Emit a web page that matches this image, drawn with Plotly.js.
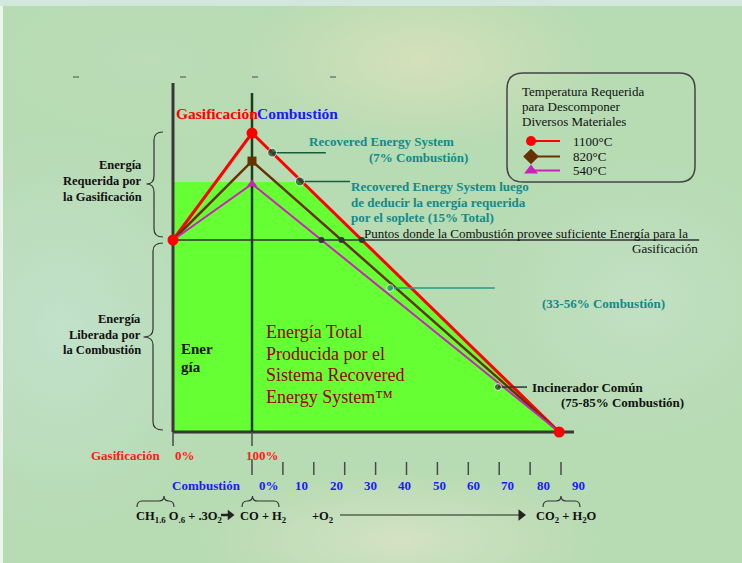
<!DOCTYPE html>
<html><head><meta charset="utf-8">
<script src="https://cdn.plot.ly/plotly-3.0.1.min.js"></script>
<style>
html,body{margin:0;padding:0;width:742px;height:563px;overflow:hidden;}
body{
 background:
  linear-gradient(to bottom, rgba(212,232,222,0.95) 0, rgba(212,232,222,0.95) 6px, transparent 6px),
  linear-gradient(to right, rgba(240,246,240,0.95) 0, rgba(240,246,240,0.95) 3px, transparent 3px),
  radial-gradient(ellipse 180px 90px at 420px 60px, rgba(222,226,188,0.75), transparent),
  radial-gradient(ellipse 160px 200px at 60px 330px, rgba(198,228,212,0.7), transparent),
  radial-gradient(ellipse 200px 70px at 400px 540px, rgba(218,228,198,0.8), transparent),
  radial-gradient(ellipse 160px 140px at 640px 300px, rgba(200,228,205,0.6), transparent),
  radial-gradient(ellipse 150px 80px at 150px 60px, rgba(190,222,185,0.6), transparent),
  #b7dbb3;
}
#chart{width:742px;height:563px;}
</style></head><body><div id="chart"></div>
<script>
// ---------------- data ----------------
const temperatures = ['1100°C', '820°C', '540°C'];
const lineColors = ['#ff0000', '#663300', '#cc22bb'];
const peakEnergy = [155.7, 141.1, 129.2];   // energy at 100% gasification (0% combustion)
const startEnergy = 100;                     // energy at 0% gasification
const endCombustion = 99.4;                  // combustion % where energy returns to 0
const greenTopEnergy = 130.2;
const gasTicks = [0, 100];
const gasTickLabels = ['0%', '100%'];
const combTicks = [0, 10, 20, 30, 40, 50, 60, 70, 80, 90, 100];
const combLabels = ['0%', '10', '20', '30', '40', '50', '60', '70', '80', '90'];
const combLabelPos = [5.5, 15.9, 27.2, 38.2, 49.5, 60.8, 71.8, 82.8, 94.2, 105.5];
const calloutX = [6.5, 15.5, 44.7, 79.6];
const calloutY = [145.5, 130.5, 75, 23.4];
const calloutEndX = [23.9, 31.7, 78.6, 89.0];
const axisTopEnergy = 181.8;
const midLineTopEnergy = 176.6;
const thresholdEndX = 144.7;
const baselineEndX = 104.2;

// --------------- scales ---------------
const PXC = 3.09;             // px per combustion %
const PXG = 0.79;             // px per gasification %
const PXE = 1.92;             // px per energy unit
const gasToX = g => (g - 100) * PXG / PXC;
const X = px => (px - 252) / PXC;   // layout helper (pixel -> axis units)
const Y = py => (432 - py) / PXE;
const gx0 = gasToX(0);
const SERIF = '"Liberation Serif", "Times New Roman", serif';

const traces = [];
// green area
const xRedTop = endCombustion * (1 - greenTopEnergy / peakEnergy[0]);
traces.push({x: [gx0, xRedTop, endCombustion, gx0], y: [greenTopEnergy, greenTopEnergy, 0, 0],
  mode: 'lines', fill: 'toself', fillcolor: '#66ff33', line: {width: 0}});
// frame lines
traces.push({x: [gx0, thresholdEndX], y: [startEnergy, startEnergy], mode: 'lines', line: {color: '#333', width: 1.5}});
traces.push({x: [gx0, gx0, null, gx0, baselineEndX], y: [0, axisTopEnergy, null, 0, 0], mode: 'lines', line: {color: '#383838', width: 3}});
traces.push({x: [0, 0], y: [0, midLineTopEnergy], mode: 'lines', line: {color: '#1e3d1e', width: 2.5}});
// ticks
const tx = [], ty = [];
gasTicks.forEach(g => { tx.push(gasToX(g), gasToX(g), null); ty.push(0, Y(446), null); });
combTicks.forEach((c, i) => { tx.push(c, c, null); ty.push(i === 0 ? Y(459) : Y(462), Y(475), null); });
traces.push({x: tx, y: ty, mode: 'lines', line: {color: '#4a4a4a', width: 1.5}});
// series lines
peakEnergy.forEach((p, i) => {
  traces.push({x: [gx0, 0, endCombustion], y: [startEnergy, p, 0], mode: 'lines', name: temperatures[i],
    line: {color: lineColors[i], width: i === 0 ? 3 : (i === 1 ? 2.5 : 2)}});
});
// peak markers
const symbols = ['circle', 'square', 'triangle-up'];
peakEnergy.forEach((p, i) => {
  traces.push({x: [0], y: [p], mode: 'markers', marker: {symbol: symbols[i], color: lineColors[i], size: i === 0 ? 11 : 9}});
});
traces.push({x: [gx0, endCombustion], y: [startEnergy, 0], mode: 'markers', marker: {color: '#ff0000', size: 11}});
// threshold intersections
traces.push({x: peakEnergy.map(p => endCombustion * (p - startEnergy) / p), y: peakEnergy.map(() => startEnergy),
  mode: 'markers', marker: {color: '#2b3a33', size: 6}});
// callouts
const calloutColors = ['#1a5c3a', '#1a5c3a', '#2a9a8a', '#333'];
calloutX.forEach((cx, i) => {
  traces.push({x: [cx, calloutEndX[i]], y: [calloutY[i], calloutY[i]], mode: 'lines', line: {color: calloutColors[i], width: 1.5}});
});
traces.push({x: calloutX, y: calloutY, mode: 'markers', marker: {color: ['#0d4d2d', '#0d4d2d', '#1f8a7a', '#333'], size: [9, 9, 7, 7]}});
// legend swatches
const legY = [141, 156.5, 170.5];
const legSym = ['circle', 'diamond', 'triangle-up'];
temperatures.forEach((t, i) => {
  traces.push({x: [X(531), X(560)], y: [Y(legY[i]), Y(legY[i])], mode: 'lines', line: {color: lineColors[i], width: 2}});
  traces.push({x: [X(531)], y: [Y(legY[i])], mode: 'markers', marker: {symbol: legSym[i], color: lineColors[i], size: i === 0 ? 10 : 12}});
});
// reaction arrows (bottom formula)
traces.push({x: [X(221), X(229)], y: [Y(515), Y(515)], mode: 'lines', line: {color: '#222', width: 2.5}});
traces.push({x: [X(230)], y: [Y(515)], mode: 'markers', marker: {symbol: 'triangle-right', color: '#222', size: 9}});
traces.push({x: [X(340), X(519)], y: [Y(515), Y(515)], mode: 'lines', line: {color: '#222', width: 1.2}});
traces.push({x: [X(521)], y: [Y(515)], mode: 'markers', marker: {symbol: 'triangle-right', color: '#222', size: 10}});

// --------------- annotations ---------------
const ann = [];
function T(text, px, py, size, color, anchor) {
  ann.push({x: X(px), y: Y(py), xref: 'x', yref: 'y', text: text, showarrow: false,
    xanchor: anchor || 'left', yanchor: 'middle', borderpad: 0,
    font: {family: SERIF, size: size, color: color}});
}
T('<b>Gasificación</b>', 175, 113, 15.5, '#ff0000');
T('<b>Combustión</b>', 256, 113, 15.5, '#1a1aff');
[['Energía', 165], ['Requerida por', 181], ['la Gasificación', 197]].forEach(a => T('<b>' + a[0] + '</b>', 143, a[1], 12.5, '#111', 'right'));
[['Energía', 319], ['Liberada por', 334.5], ['la Combustión', 350]].forEach(a => T('<b>' + a[0] + '</b>', 142, a[1], 12.5, '#111', 'right'));
T('<b>Ener</b>', 180, 349, 15, '#111');
T('<b>gía</b>', 180, 367, 15, '#111');
[['Energía Total', 332], ['Producida por el', 353.5], ['Sistema Recovered', 375], ['Energy System™', 397]].forEach(a => T(a[0], 265, a[1], 18, '#990000'));
const TEAL = '#138a8a';
T('<b>Recovered Energy System</b>', 307.5, 141.5, 13, TEAL);
T('<b>(7% Combustión)</b>', 367.5, 157, 13, TEAL);
[['Recovered Energy System luego', 186], ['de deducir la energía requerida', 202], ['por el soplete (15% Total)', 217.5]].forEach(a => T('<b>' + a[0] + '</b>', 350, a[1], 13, TEAL));
T('Puntos donde la Combustión provee suficiente Energía para la', 363, 233.5, 13, '#111');
T('Gasificación', 699, 248, 13, '#111', 'right');
T('<b>(33-56% Combustión)</b>', 540.5, 303.5, 13, TEAL);
T('<b>Incinerador Común</b>', 531, 387, 13, '#111');
T('<b>(75-85% Combustión)</b>', 559.5, 402, 13, '#111');
T('<b>Gasificación</b>', 90, 455, 13, '#ff1a1a');
const gasLabelPx = [173.5, 245];
gasTickLabels.forEach((l, i) => T('<b>' + l + '</b>', gasLabelPx[i], 455, 13, '#ff1a1a'));
T('<b>Combustión</b>', 170.5, 485, 13, '#1a1aff');
combLabels.forEach((l, i) => ann.push({x: combLabelPos[i], y: Y(485), text: '<b>' + l + '</b>', showarrow: false,
  xanchor: 'center', yanchor: 'middle', font: {family: SERIF, size: 13, color: '#1a1aff'}}));
T('<b>CH<sub>1.6</sub> O<sub>.6</sub> + .3O<sub>2</sub></b>', 134.5, 517, 12.5, '#111');
T('<b>CO + H<sub>2</sub></b>', 238.5, 517, 12.5, '#111');
T('<b>+O<sub>2</sub></b>', 311, 517, 12.5, '#111');
T('<b>CO<sub>2</sub> + H<sub>2</sub>O</b>', 535, 517, 12.5, '#111');
// legend title
[['Temperatura Requerida', 91.5], ['para Descomponer', 106], ['Diversos Materiales', 121.5]].forEach(a => T(a[0], 521, a[1], 13, '#111'));
temperatures.forEach((t, i) => T(t, 572, legY[i], 13, '#111'));

// --------------- shapes ---------------
const f = v => v.toFixed(3);
const P = (px, py) => f(X(px)) + ',' + f(Y(py));
function vBrace(xr, xm, xl, y0, ym, y1) {
  const r = 8;
  return 'M' + P(xr, y0) + ' Q' + P(xm, y0) + ' ' + P(xm, y0 + r) + ' L' + P(xm, ym - r) +
    ' Q' + P(xm, ym) + ' ' + P(xl, ym) + ' Q' + P(xm, ym) + ' ' + P(xm, ym + r) +
    ' L' + P(xm, y1 - r) + ' Q' + P(xm, y1) + ' ' + P(xr, y1);
}
function hBrace(x0, xt, x1, yb, ym, yt) {
  const r = 5;
  return 'M' + P(x0, yb) + ' Q' + P(x0, ym) + ' ' + P(x0 + r, ym) + ' L' + P(xt - r, ym) +
    ' Q' + P(xt, ym) + ' ' + P(xt, yt) + ' Q' + P(xt, ym) + ' ' + P(xt + r, ym) +
    ' L' + P(x1 - r, ym) + ' Q' + P(x1, ym) + ' ' + P(x1, yb);
}
function rrect(x0, y0, x1, y1, r) {
  return 'M' + P(x0 + r, y0) + ' L' + P(x1 - r, y0) + ' Q' + P(x1, y0) + ' ' + P(x1, y0 + r) +
    ' L' + P(x1, y1 - r) + ' Q' + P(x1, y1) + ' ' + P(x1 - r, y1) + ' L' + P(x0 + r, y1) +
    ' Q' + P(x0, y1) + ' ' + P(x0, y1 - r) + ' L' + P(x0, y0 + r) + ' Q' + P(x0, y0) + ' ' + P(x0 + r, y0) + ' Z';
}
const braceLine = {color: '#333', width: 1.2};
const shapes = [
  {type: 'path', xref: 'x', yref: 'y', path: vBrace(163, 154, 146.5, 132, 184, 237), line: braceLine},
  {type: 'path', xref: 'x', yref: 'y', path: vBrace(163, 153, 143.5, 243, 337, 430), line: braceLine},
  {type: 'path', xref: 'x', yref: 'y', path: hBrace(137, 164, 174, 507, 501, 496), line: braceLine},
  {type: 'path', xref: 'x', yref: 'y', path: hBrace(242, 252.5, 279, 507, 501, 496), line: braceLine},
  {type: 'path', xref: 'x', yref: 'y', path: hBrace(543, 561, 580, 507, 501, 496), line: braceLine},
  {type: 'path', xref: 'x', yref: 'y', path: rrect(507, 73, 695, 182, 16), line: {color: '#444', width: 1.5}},
];
[76, 183, 255, 333].forEach(px => shapes.push({type: 'line', xref: 'x', yref: 'y', x0: X(px - 3), x1: X(px + 3),
  y0: Y(77), y1: Y(77), line: {color: '#555', width: 1.5}, opacity: 0.7}));

const layout = {
  width: 742, height: 563, margin: {l: 0, r: 0, t: 0, b: 0},
  paper_bgcolor: 'rgba(0,0,0,0)', plot_bgcolor: 'rgba(0,0,0,0)',
  showlegend: false, hovermode: false,
  xaxis: {range: [X(0), X(742)], visible: false, fixedrange: true},
  yaxis: {range: [Y(563), Y(0)], visible: false, fixedrange: true},
  annotations: ann, shapes: shapes
};
traces.forEach(t => { t.type = 'scatter'; t.hoverinfo = 'skip'; t.showlegend = false; });
Plotly.newPlot('chart', traces, layout, {staticPlot: true});
</script></body></html>
